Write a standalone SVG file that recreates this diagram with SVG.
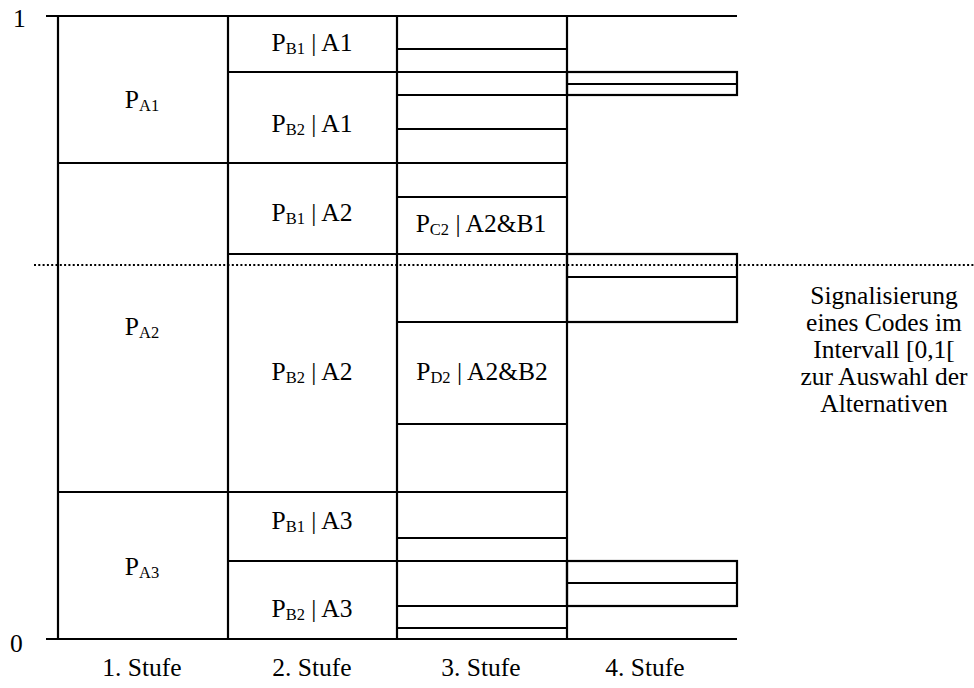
<svg xmlns="http://www.w3.org/2000/svg" width="974" height="688" viewBox="0 0 974 688">
<style>
.ln{stroke:#000;stroke-width:2.2;fill:none}
.dot{stroke:#000;stroke-width:2;stroke-dasharray:2 2.3;fill:none}
.c{text-anchor:middle}
.s{font-size:16.5px}
</style>
<rect width="974" height="688" fill="#fff"/>
<g id="frame" class="ln">
<line x1="46" y1="16" x2="737" y2="16"/>
<line x1="46" y1="639" x2="737" y2="639"/>
<line x1="58" y1="16" x2="58" y2="639"/>
<line x1="228" y1="16" x2="228" y2="639"/>
<line x1="397" y1="16" x2="397" y2="639"/>
<line x1="567" y1="16" x2="567" y2="639"/>
</g>
<g id="stufe1" class="ln">
<line x1="58" y1="163" x2="228" y2="163"/>
<line x1="58" y1="492" x2="228" y2="492"/>
</g>
<g id="stufe2" class="ln">
<line x1="228" y1="72" x2="397" y2="72"/>
<line x1="228" y1="163" x2="397" y2="163"/>
<line x1="228" y1="254" x2="397" y2="254"/>
<line x1="228" y1="492" x2="397" y2="492"/>
<line x1="228" y1="561" x2="397" y2="561"/>
</g>
<g id="stufe3" class="ln">
<line x1="397" y1="49" x2="567" y2="49"/>
<line x1="397" y1="72" x2="567" y2="72"/>
<line x1="397" y1="95" x2="567" y2="95"/>
<line x1="397" y1="129" x2="567" y2="129"/>
<line x1="397" y1="163" x2="567" y2="163"/>
<line x1="397" y1="197" x2="567" y2="197"/>
<line x1="397" y1="254" x2="567" y2="254"/>
<line x1="397" y1="322" x2="567" y2="322"/>
<line x1="397" y1="424" x2="567" y2="424"/>
<line x1="397" y1="492" x2="567" y2="492"/>
<line x1="397" y1="538" x2="567" y2="538"/>
<line x1="397" y1="561" x2="567" y2="561"/>
<line x1="397" y1="606" x2="567" y2="606"/>
<line x1="397" y1="628" x2="567" y2="628"/>
</g>
<g id="stufe4" class="ln">
<rect x="567" y="72" width="170" height="23"/>
<line x1="567" y1="84" x2="737" y2="84"/>
<rect x="567" y="254" width="170" height="68"/>
<line x1="567" y1="277" x2="737" y2="277"/>
<rect x="567" y="561" width="170" height="45"/>
<line x1="567" y1="583" x2="737" y2="583"/>
</g>
<g id="code-line">
<line class="dot" x1="34" y1="265" x2="974" y2="265"/>
</g>
<g id="labels" font-family="Liberation Serif, Tinos, Times New Roman, DejaVu Serif, serif" font-size="25.5" fill="#000">
<text x="13" y="27">1</text>
<text x="10" y="652">0</text>
<text class="c" x="142" y="108">P<tspan class="s" dy="3">A1</tspan></text>
<text class="c" x="142" y="335">P<tspan class="s" dy="3">A2</tspan></text>
<text class="c" x="142" y="575">P<tspan class="s" dy="3">A3</tspan></text>
<text class="c" x="312" y="51">P<tspan class="s" dy="3">B1</tspan><tspan dy="-3"> | A1</tspan></text>
<text class="c" x="312" y="132">P<tspan class="s" dy="3">B2</tspan><tspan dy="-3"> | A1</tspan></text>
<text class="c" x="312" y="221">P<tspan class="s" dy="3">B1</tspan><tspan dy="-3"> | A2</tspan></text>
<text class="c" x="312" y="380">P<tspan class="s" dy="3">B2</tspan><tspan dy="-3"> | A2</tspan></text>
<text class="c" x="312" y="529">P<tspan class="s" dy="3">B1</tspan><tspan dy="-3"> | A3</tspan></text>
<text class="c" x="312" y="617">P<tspan class="s" dy="3">B2</tspan><tspan dy="-3"> | A3</tspan></text>
<text class="c" x="481" y="232">P<tspan class="s" dy="3">C2</tspan><tspan dy="-3"> | A2&amp;B1</tspan></text>
<text class="c" x="482" y="380">P<tspan class="s" dy="3">D2</tspan><tspan dy="-3"> | A2&amp;B2</tspan></text>
<text class="c" x="142" y="676">1. Stufe</text>
<text class="c" x="312" y="676">2. Stufe</text>
<text class="c" x="481" y="676">3. Stufe</text>
<text class="c" x="645" y="676">4. Stufe</text>
<text class="c" x="884" y="304">Signalisierung</text>
<text class="c" x="884" y="331">eines Codes im</text>
<text class="c" x="884" y="358">Intervall [0,1[</text>
<text class="c" x="884" y="385">zur Auswahl der</text>
<text class="c" x="884" y="412">Alternativen</text>
</g>
</svg>
